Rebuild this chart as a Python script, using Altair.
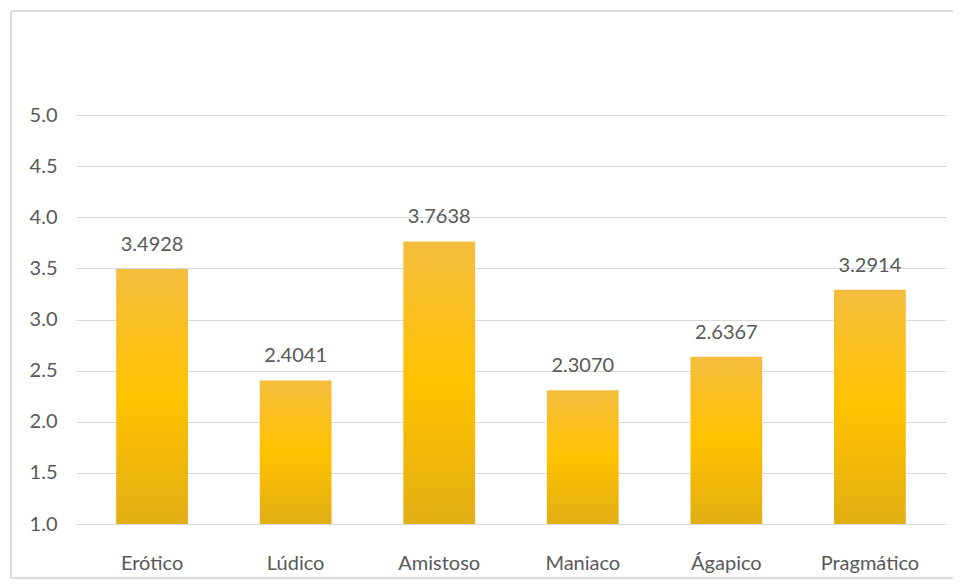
import altair as alt
import pandas as pd

categories = ["Erótico", "Lúdico", "Amistoso", "Maniaco", "Ágapico", "Pragmático"]
values = [3.4928, 2.4041, 3.7638, 2.3070, 2.6367, 3.2914]
y_ticks = [1.0, 1.5, 2.0, 2.5, 3.0, 3.5, 4.0, 4.5, 5.0]

df = pd.DataFrame({"cat": categories, "val": values})

W, H = 870, 409
LEFT = 68
TOTAL_W = 945
FONT = "Lato"
GREY = "#595959"
FS = 20
FRAME = "#dcdcdc"

gradient = alt.Gradient(
    gradient="linear",
    stops=[
        alt.GradientStop(color="#f4bd3e", offset=0),
        alt.GradientStop(color="#ffc200", offset=0.5),
        alt.GradientStop(color="#e2ae14", offset=1),
    ],
    x1=0, x2=0, y1=0, y2=1,
)

x_enc = alt.X(
    "cat:N", sort=categories, title=None,
    scale=alt.Scale(paddingInner=0.5, paddingOuter=0.28),
    axis=alt.Axis(labelAngle=0, domain=False, ticks=False, labelPadding=29,
                  labelFontSize=FS, labelColor=GREY, labelFont=FONT, grid=False),
)
y_enc = alt.Y(
    "val:Q", title=None,
    scale=alt.Scale(domain=[1, 5], zero=False, nice=False),
    axis=alt.Axis(values=y_ticks, format=".1f", domain=False, ticks=False,
                  labelPadding=19, labelFontSize=FS, labelColor=GREY, labelFont=FONT,
                  gridColor="#d9d9d9", gridWidth=1),
)

base = alt.Chart(df)

frame_top = base.mark_rule(stroke=FRAME, strokeWidth=1).encode(
    x=alt.value(-65), x2=alt.value(W + 60), y=alt.value(-104)
)
frame_bottom = base.mark_rule(stroke=FRAME, strokeWidth=1).encode(
    x=alt.value(-65), x2=alt.value(W + 60), y=alt.value(H + 54)
)
frame_left = base.mark_rule(stroke=FRAME, strokeWidth=1).encode(
    x=alt.value(-65), y=alt.value(-104), y2=alt.value(H + 54)
)

bars = base.mark_bar(color=gradient).encode(
    x=x_enc, y=y_enc, y2=alt.datum(1.0)
)

labels = base.mark_text(baseline="bottom", dy=-14, fontSize=FS, color=GREY, font=FONT).encode(
    x=alt.X("cat:N", sort=categories),
    y=alt.Y("val:Q"),
    text=alt.Text("val:Q", format=".4f"),
)

chart = alt.layer(frame_top, frame_bottom, frame_left, bars, labels).properties(
    width=W, height=H,
    autosize=alt.AutoSizeParams(type="none"),
    padding={"left": LEFT, "top": 107, "right": TOTAL_W - LEFT - W, "bottom": 55},
).configure(background="white").configure_view(stroke=None)

chart.save("out.html", embed_options={"renderer": "svg", "actions": False})
